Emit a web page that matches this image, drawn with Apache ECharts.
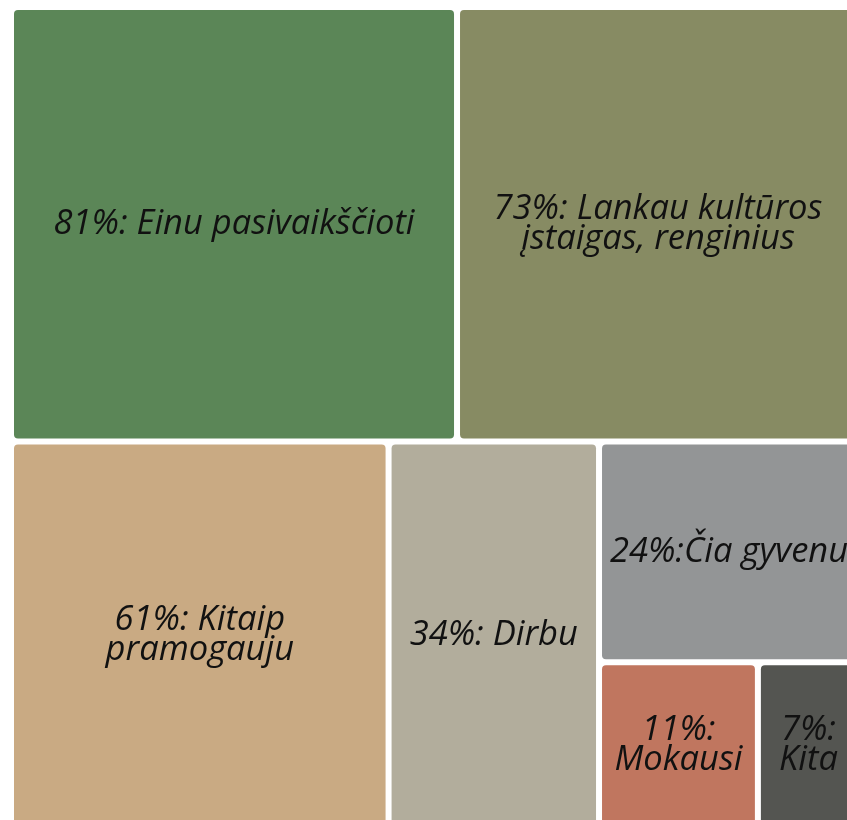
<!DOCTYPE html>
<html>
<head>
<meta charset="utf-8">
<script src="https://cdn.jsdelivr.net/npm/echarts@6/dist/echarts.min.js"></script>
<style>
html, body { margin: 0; padding: 0; background: #fff; }
#chart { width: 847px; height: 820px; }
</style>
</head>
<body>
<div id="chart"></div>
<script>
var labels = ['81%: Einu pasivaikščioti', '73%: Lankau kultūros\nįstaigas, renginius', '61%: Kitaip\npramogauju',
    '34%: Dirbu', '24%:Čia gyvenu', '11%:\nMokausi', '7%:\nKita'];
var values = [81, 73, 61, 34, 24, 11, 7];
var colors = ['#5b8657', '#878b63', '#c9aa83', '#b2ad9c', '#939596', '#c0765f', '#545551'];

function leaf(i) {
    return {
        name: labels[i],
        value: values[i],
        itemStyle: {color: colors[i], borderRadius: 4}
    };
}

// nested groups so the squarify gives two rows like the original
var data = [
    {name: 'top', children: [leaf(0), leaf(1)]},
    {name: 'bottom', children: [
        {name: 'b1', children: [leaf(2), leaf(3)]},
        {name: 'b2', children: [leaf(4), leaf(5), leaf(6)]}
    ]}
];

var myChart = echarts.init(document.getElementById('chart'));
var option = {
    animation: false,
    series: [{
        type: 'treemap',
        left: 14,
        top: 10,
        width: 842,
        height: 815,
        roam: false,
        nodeClick: false,
        breadcrumb: {show: false},
        itemStyle: {borderWidth: 0, gapWidth: 6, borderColor: '#fff'},
        levels: [
            {itemStyle: {borderWidth: 0, gapWidth: 6, borderColor: '#fff'}},
            {itemStyle: {borderWidth: 0, gapWidth: 6, borderColor: '#fff'}},
            {itemStyle: {borderWidth: 0, gapWidth: 6, borderColor: '#fff'}},
            {itemStyle: {borderWidth: 0}}
        ],
        label: {
            show: true,
            position: 'inside',
            align: 'center',
            verticalAlign: 'middle',
            overflow: 'none',
            color: '#111',
            fontFamily: 'Open Sans',
            fontStyle: 'italic',
            fontSize: 34.5,
            lineHeight: 30
        },
        upperLabel: {show: false},
        data: data
    }]
};
myChart.setOption(option);
</script>
</body>
</html>
